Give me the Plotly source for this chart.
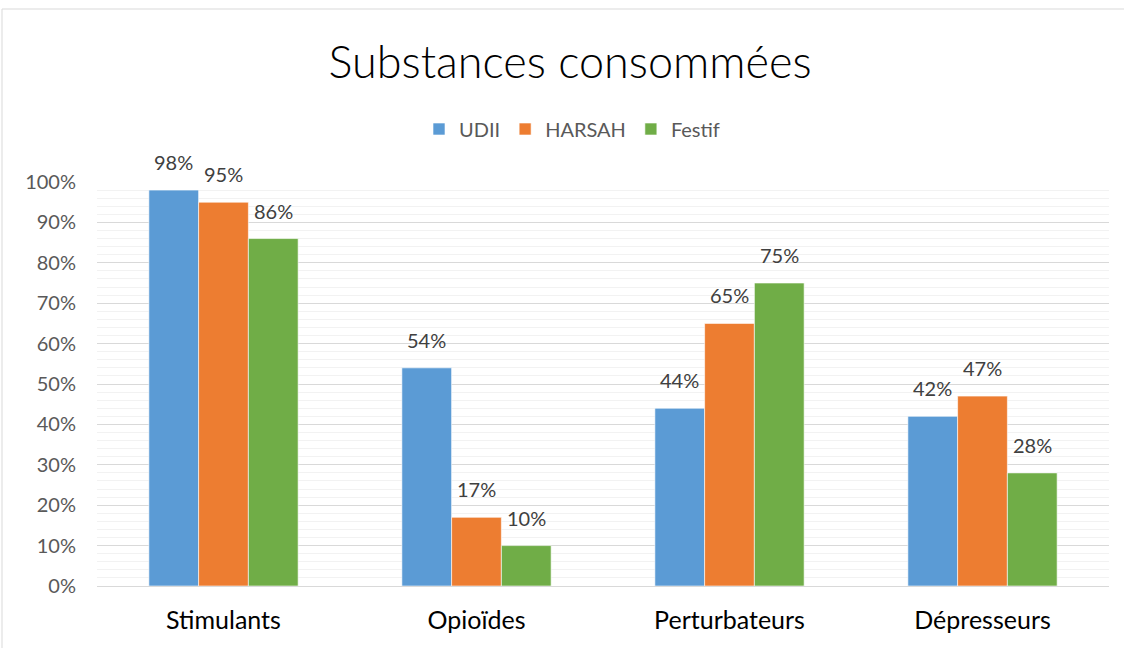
import plotly.graph_objects as go

categories = ["Stimulants", "Opioïdes", "Perturbateurs", "Dépresseurs"]
udii = [98, 54, 44, 42]
harsah = [95, 17, 65, 47]
festif = [86, 10, 75, 28]
series_names = ["UDII", "HARSAH", "Festif"]
colors = ["#5B9BD5", "#ED7D31", "#70AD47"]
y_ticks = [0, 10, 20, 30, 40, 50, 60, 70, 80, 90, 100]
y_tick_labels = [f"{v}%" for v in y_ticks]

FONT = "Lato, 'Open Sans', sans-serif"

W, H = 1124, 648
L, T, R, B = 97, 182, 15, 62
pw, ph = W - L - R, H - T - B
BARGAP = 0.41

def px_x(x):
    return (x - L) / pw

def px_y(y):
    return (H - B - y) / ph

fig = go.Figure()
all_series = [udii, harsah, festif]
n_series = len(all_series)
bar_px = pw / len(categories) * (1 - BARGAP) / n_series
annotations = []
for i, (name, vals, col) in enumerate(zip(series_names, all_series, colors)):
    fig.add_trace(go.Bar(
        name=name, x=categories, y=vals,
        marker=dict(color=col, line=dict(color="rgba(255,255,255,0.6)", width=1)),
        cliponaxis=False,
    ))
    for cat, v in zip(categories, vals):
        annotations.append(dict(
            x=cat, y=v, xref="x", yref="y", text=f"{v}%", showarrow=False,
            xshift=(i - (n_series - 1) / 2) * bar_px, yshift=28, yanchor="middle",
            font=dict(size=20, color="#404040", family=FONT),
        ))

border = dict(color="#d9d9d9", width=1)
fig.update_layout(
    width=W, height=H,
    margin=dict(l=L, r=R, t=T, b=B),
    paper_bgcolor="white", plot_bgcolor="white",
    barmode="group", bargap=BARGAP, bargroupgap=0,
    font=dict(family=FONT, color="#595959"),
    title=dict(text="Substances consommées", x=570 / W, xanchor="center",
               y=1 - 62 / H, yanchor="middle",
               font=dict(size=45, color="#000000", family=FONT, weight=300)),
    legend=dict(orientation="h", x=px_x(572), xanchor="center",
                y=px_y(129), yanchor="middle",
                font=dict(size=20, color="#595959", family=FONT),
                itemwidth=30, traceorder="normal"),
    xaxis=dict(tickfont=dict(size=25, color="#000000", family=FONT),
               showline=True, linecolor="#d9d9d9", linewidth=1, ticks="",
               showgrid=False, ticklabelstandoff=12),
    yaxis=dict(range=[0, 100], tickmode="array", tickvals=y_ticks, ticktext=y_tick_labels,
               tickfont=dict(size=20, color="#595959", family=FONT),
               showgrid=True, gridcolor="#d9d9d9", gridwidth=1,
               zeroline=False, showline=False, ticks="", ticklabelstandoff=20,
               minor=dict(dtick=2, showgrid=True, gridcolor="#f2f2f2", gridwidth=1)),
    annotations=annotations,
    shapes=[
        dict(type="line", xref="paper", yref="paper",
             x0=px_x(2), x1=px_x(1124), y0=px_y(9), y1=px_y(9), line=border, layer="below"),
        dict(type="line", xref="paper", yref="paper",
             x0=px_x(2), x1=px_x(2), y0=px_y(9), y1=px_y(648), line=border, layer="below"),
    ],
)

fig.write_html("out.html", config={"displayModeBar": False},
               post_script="document.body.style.margin='0';document.body.style.overflow='hidden';")
